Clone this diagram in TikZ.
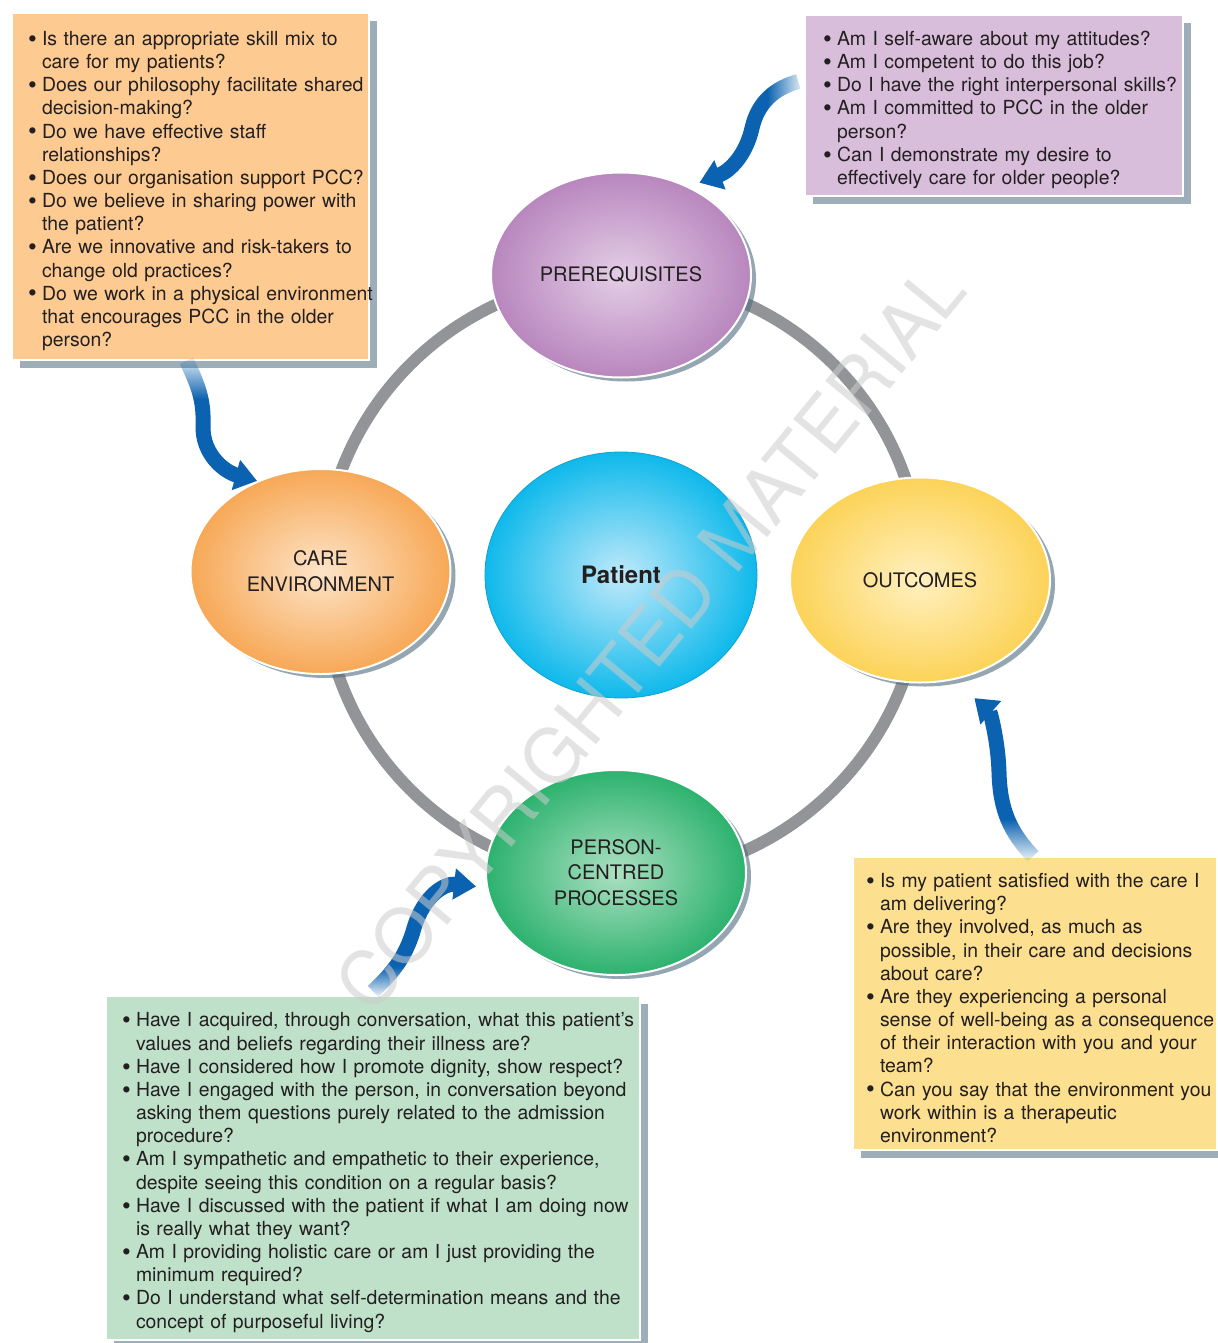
\documentclass[tikz,border=0pt]{standalone}
\usepackage{fontspec}
\setmainfont{TeX Gyre Heros}
\usetikzlibrary{shapes.geometric,shadows,arrows.meta,fadings}

% colours
\definecolor{ringgray}{RGB}{146,148,151}
\definecolor{arrowblue}{RGB}{11,98,176}
\definecolor{inktext}{RGB}{35,31,32}
\definecolor{shadowslate}{RGB}{78,108,126}
\definecolor{boxshadow}{RGB}{140,160,173}
\definecolor{orangebox}{RGB}{253,203,146}
\definecolor{purplebox}{RGB}{217,190,219}
\definecolor{yellowbox}{RGB}{253,224,143}
\definecolor{greenbox}{RGB}{191,225,201}

% fades at the tail of the arrows
\pgfdeclareverticalshading{tailtopshade}{100bp}{color(0bp)=(white); color(58bp)=(white); color(75bp)=(black); color(100bp)=(black)}
\pgfdeclarefading{tailtop}{\pgfuseshading{tailtopshade}}
\pgfdeclarehorizontalshading{taileastshade}{100bp}{color(0bp)=(white); color(58bp)=(white); color(75bp)=(black); color(100bp)=(black)}
\pgfdeclarefading{taileast}{\pgfuseshading{taileastshade}}
\pgfdeclareverticalshading{tailbottomshade}{100bp}{color(0bp)=(black); color(25bp)=(black); color(38bp)=(white); color(100bp)=(white)}
\pgfdeclarefading{tailbottom}{\pgfuseshading{tailbottomshade}}

% one bullet line and its follow-on lines
\newcommand{\qfont}{\fontsize{9.7}{11.58}\selectfont}
\newcommand{\qitem}[1]{\par\noindent\makebox[7pt][l]{\raisebox{-0.9pt}{\fontsize{12.5}{12}\selectfont\textbullet}}\mbox{#1}}
\newcommand{\qline}[1]{\par\noindent\hspace*{7pt}\mbox{#1}}

\tikzset{
  stage/.style={ellipse, minimum width=130pt, minimum height=102.5pt, inner sep=0pt,
    draw=white, line width=1pt, text=inktext, align=center,
    font=\fontsize{10}{12.8}\selectfont,
    drop shadow={shadow xshift=2.5pt, shadow yshift=-2pt, fill=shadowslate, opacity=.6}},
  patientnode/.style={ellipse, minimum width=136pt, minimum height=123pt, inner sep=0pt,
    draw={rgb,255:red,20;green,160;blue,205}, line width=.4pt, text=inktext,
    font=\fontsize{12}{14}\selectfont\bfseries,
    inner color={rgb,255:red,192;green,233;blue,250}, outer color={rgb,255:red,14;green,185;blue,235}},
  qbox/.style={rectangle, draw=white, line width=.7pt, text=inktext, align=left,
    inner ysep=0pt, font=\qfont,
    drop shadow={shadow xshift=4pt, shadow yshift=-4pt, fill=boxshadow, opacity=.85}},
  flow/.style={draw=arrowblue, line width=7.5pt, -{Triangle[width=15pt,length=11pt]}},
  ring/.style={draw=ringgray, line width=6pt},
  stamp/.style={text=gray!40, text opacity=.55, font=\fontsize{37.5}{40}\selectfont}
}

\begin{document}
\begin{tikzpicture}[x=0.5pt,y=-0.5pt]
    % canvas
    \useasboundingbox[fill=white] (0,0) rectangle (1217,1343);

    % grey ring round the patient
    \coordinate (hub) at (622,577);
    \draw[ring] (hub) circle[radius=150pt];

    % stages on the ring
    \node[stage, inner color={rgb,255:red,228;green,206;blue,230}, outer color={rgb,255:red,184;green,134;blue,190}] (prereq) at (621,275) {PREREQUISITES};
    \node[stage, inner color={rgb,255:red,253;green,228;blue,200}, outer color={rgb,255:red,247;green,168;blue,86}] (care) at (320.5,571.5) {CARE\\ENVIRONMENT};
    \node[stage, inner color={rgb,255:red,255;green,240;blue,192}, outer color={rgb,255:red,252;green,211;blue,88}] (outc) at (920,580) {OUTCOMES};
    \node[stage, inner color={rgb,255:red,172;green,224;blue,194}, outer color={rgb,255:red,44;green,178;blue,110}] (pcp) at (616,872.5) {PERSON-\\CENTRED\\PROCESSES};
    \node[patientnode] (patient) at (621,575) {Patient};

    % question boxes
    \node[qbox, fill=orangebox, inner xsep=8pt, text width=162.5pt, minimum height=173.5pt] (obox) at (190.5,186.5) {%
      \qitem{Is there an appropriate skill mix to}\qline{care for my patients?}
      \qitem{Does our philosophy facilitate shared}\qline{decision-making?}
      \qitem{Do we have effective staff}\qline{relationships?}
      \qitem{Does our organisation support PCC?}
      \qitem{Do we believe in sharing power with}\qline{the patient?}
      \qitem{Are we innovative and risk-takers to}\qline{change old practices?}
      \qitem{Do we work in a physical environment}\qline{that encourages PCC in the older}\qline{person?}};
    \node[qbox, fill=purplebox, inner xsep=9pt, text width=171pt, minimum height=90.5pt] (pbox) at (994,105.5) {%
      \qitem{Am I self-aware about my attitudes?}
      \qitem{Am I competent to do this job?}
      \qitem{Do I have the right interpersonal skills?}
      \qitem{Am I committed to PCC in the older}\qline{person?}
      \qitem{Can I demonstrate my desire to}\qline{effectively care for older people?}};
    \node[qbox, fill=yellowbox, inner xsep=6.5pt, text width=169pt, minimum height=146.5pt] (ybox) at (1035,1003.5) {%
      \qitem{Is my patient satisfied with the care I}\qline{am delivering?}
      \qitem{Are they involved, as much as}\qline{possible, in their care and decisions}\qline{about care?}
      \qitem{Are they experiencing a personal}\qline{sense of well-being as a consequence}\qline{of their interaction with you and your}\qline{team?}
      \qitem{Can you say that the environment you}\qline{work within is a therapeutic}\qline{environment?}};
    \node[qbox, fill=greenbox, inner xsep=8pt, text width=251pt, minimum height=172pt] (gbox) at (373,1168) {%
      \qitem{Have I acquired, through conversation, what this patient’s}\qline{values and beliefs regarding their illness are?}
      \qitem{Have I considered how I promote dignity, show respect?}
      \qitem{Have I engaged with the person, in conversation beyond}\qline{asking them questions purely related to the admission}\qline{procedure?}
      \qitem{Am I sympathetic and empathetic to their experience,}\qline{despite seeing this condition on a regular basis?}
      \qitem{Have I discussed with the patient if what I am doing now}\qline{is really what they want?}
      \qitem{Am I providing holistic care or am I just providing the}\qline{minimum required?}
      \qitem{Do I understand what self-determination means and the}\qline{concept of purposeful living?}};

    % blue arrows from the questions to the stages
    \draw[flow, path fading=tailtop] ([xshift=-2pt]obox.south) .. controls (198,385) and (204,400) .. (203,425) .. controls (202,455) and (225,472) .. (care.125);
    \draw[flow, path fading=taileast] ([shift={(-3pt,12pt)}]pbox.west) .. controls (775,88) and (758,102) .. (752,128) .. controls (746,155) and (730,171) .. ([shift={(3pt,3pt)}]prereq.50);
    \draw[flow, path fading=tailbottom] ([xshift=-1pt]ybox.north) .. controls (1010,832) and (1000,810) .. (999,772) .. controls (998,740) and (990,712) .. ([yshift=-12pt]outc.-60);
    \draw[flow, path fading=tailbottom] ([yshift=2pt]gbox.north) .. controls (390,975) and (405,960) .. (414,928) .. controls (424,895) and (445,883) .. ([shift={(-4.5pt,-7pt)}]pcp.west);

    % watermark
    \node[stamp, rotate=50.5] (mark) at (650,637) {COPYRIGHTED MATERIAL};
\end{tikzpicture}
\end{document}
